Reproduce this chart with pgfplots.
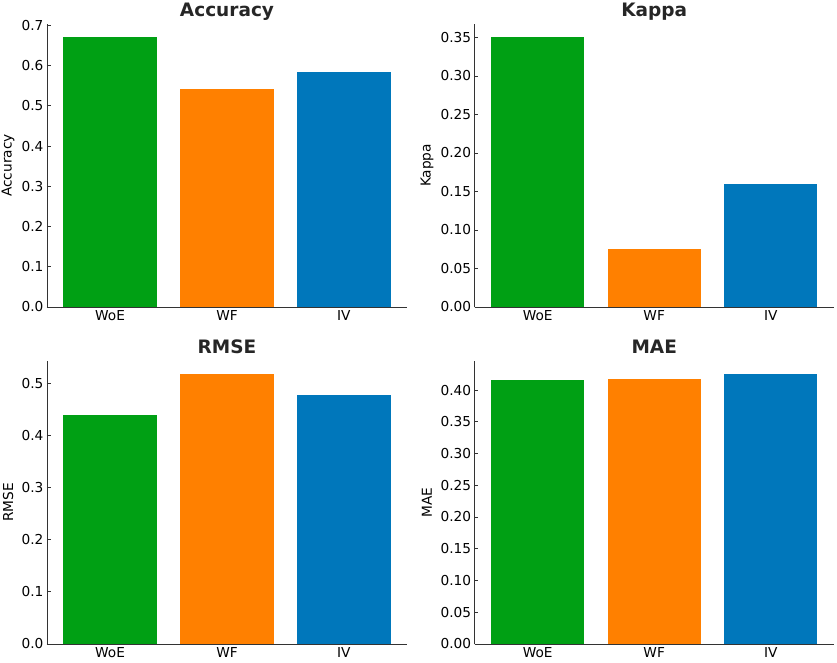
\documentclass[border=0pt]{standalone}
\usepackage{pgfplots}
\pgfplotsset{compat=1.18}
\usepackage{fontspec}
\setmainfont{DejaVu Sans}
\definecolor{cgreen}{RGB}{0,160,20}
\definecolor{corange}{RGB}{255,128,0}
\definecolor{cblue}{RGB}{0,119,187}
\definecolor{spine}{RGB}{51,51,51}
\definecolor{ttl}{RGB}{38,38,38}
\pgfplotsset{
  panel/.style={
    scale only axis,
    width=360pt, height=283pt,
    xmin=-0.54, xmax=2.54, ymin=0,
    axis x line=bottom, axis y line=left,
    axis line style={-, spine, line width=0.9pt},
    tick style={spine, line width=0.9pt},
    major tick length=3.5pt,
    tick align=inside,
    xtick={0,1,2}, xticklabels={WoE,WF,IV},
    ticklabel style={font=\fontsize{13.7}{15}\selectfont, black},
    label style={font=\fontsize{13.7}{15}\selectfont, black},
    title style={font=\fontsize{18.5}{20}\selectfont\bfseries, ttl, at={(axis description cs:0.5,1)}, anchor=base, yshift=1.5pt},
    /pgf/number format/assume math mode=true,
    yticklabel style={/pgf/number format/.cd, fixed, fixed zerofill},
    ylabel style={anchor=center, rotate=0},
  },
  bar/.style={ybar, bar width=0.8, bar shift=0pt, draw=none, fill=#1},
}
\begin{document}
\begin{tikzpicture}
\useasboundingbox (0,0) rectangle (837pt,662pt);
% Accuracy
\begin{axis}[panel, at={(47pt,355pt)}, anchor=south west,
  ymax=0.7035, ytick={0,0.1,...,0.7},
  yticklabel style={/pgf/number format/precision=1},
  title={Accuracy}, ylabel={Accuracy},
  ylabel style={at={(axis description cs:-0.108,0.5)}}]
\addplot[bar=cgreen] coordinates {(0,0.670)};
\addplot[bar=corange] coordinates {(1,0.542)};
\addplot[bar=cblue] coordinates {(2,0.583)};
\end{axis}
% Kappa
\begin{axis}[panel, at={(474.7pt,355pt)}, anchor=south west, width=359pt,
  ymax=0.3675, ytick={0,0.05,...,0.36},
  yticklabel style={/pgf/number format/precision=2},
  title={Kappa}, ylabel={Kappa},
  ylabel style={at={(axis description cs:-0.133,0.5)}}]
\addplot[bar=cgreen] coordinates {(0,0.350)};
\addplot[bar=corange] coordinates {(1,0.0747)};
\addplot[bar=cblue] coordinates {(2,0.160)};
\end{axis}
% RMSE
\begin{axis}[panel, at={(47pt,18pt)}, anchor=south west,
  ymax=0.543, ytick={0,0.1,...,0.5},
  yticklabel style={/pgf/number format/precision=1},
  title={RMSE}, ylabel={RMSE},
  ylabel style={at={(axis description cs:-0.108,0.5)}}]
\addplot[bar=cgreen] coordinates {(0,0.4387)};
\addplot[bar=corange] coordinates {(1,0.5172)};
\addplot[bar=cblue] coordinates {(2,0.477)};
\end{axis}
% MAE
\begin{axis}[panel, at={(474.7pt,18pt)}, anchor=south west, width=359pt,
  ymax=0.4457, ytick={0,0.05,...,0.41},
  yticklabel style={/pgf/number format/precision=2},
  title={MAE}, ylabel={MAE},
  ylabel style={at={(axis description cs:-0.133,0.5)}}]
\addplot[bar=cgreen] coordinates {(0,0.4163)};
\addplot[bar=corange] coordinates {(1,0.4174)};
\addplot[bar=cblue] coordinates {(2,0.4252)};
\end{axis}
\end{tikzpicture}
\end{document}
